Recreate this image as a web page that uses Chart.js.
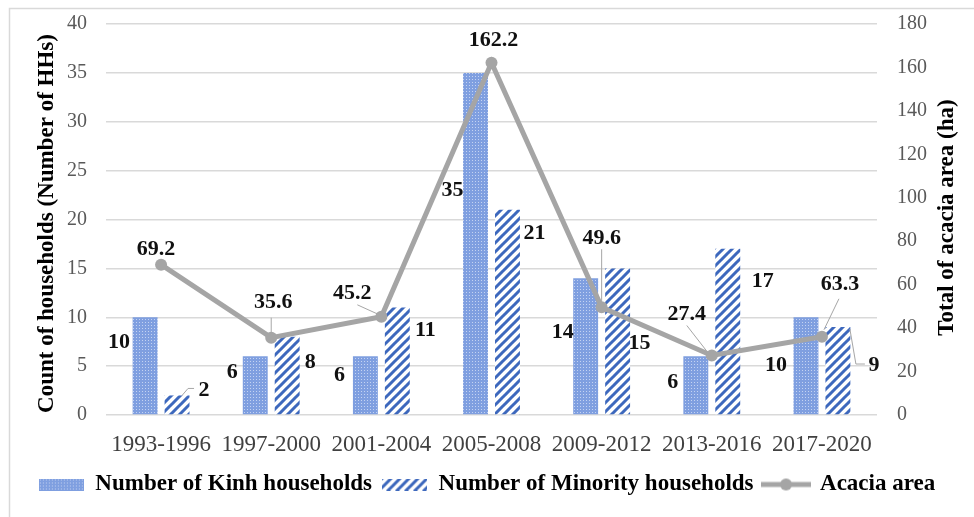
<!DOCTYPE html>
<html>
<head>
<meta charset="utf-8">
<script src="https://cdn.jsdelivr.net/npm/chart.js@4.4.0/dist/chart.umd.min.js"></script>
<style>
  html, body { margin:0; padding:0; background:#fff; }
</style>
</head>
<body>
<canvas id="chart" width="974" height="517"></canvas>
<script>
// =========== Data ============
const periods = ["1993-1996","1997-2000","2001-2004","2005-2008","2009-2012","2013-2016","2017-2020"];
const kinhHouseholds = [10, 6, 6, 35, 14, 6, 10];
const minorityHouseholds = [2, 8, 11, 21, 15, 17, 9];
// plotted position of the acacia line (last point sits at ~36 on the right axis)
const acaciaArea = [69.2, 35.6, 45.2, 162.2, 49.6, 27.4, 36];
// labels as printed on the figure
const acaciaLabels = ["69.2","35.6","45.2","162.2","49.6","27.4","63.3"];
const countMax = 40, countStep = 5;
const areaMax = 180, areaStep = 20;

// =========== Label placement (pixels from the mark) ============
const kinhLabelPos = [[-26,25],[-23,16],[-26,19],[-23,117],[-23,54],[-23,26],[-30,48]];
const minLabelPos  = [[27,-5],[23,26],[28,23],[27,24],[22,75],[35,32],[36,38]];
const areaLabelPos = [[-5,-15],[2,-35],[-29,-24],[2,-22],[0,-69],[-25,-41],[18,-52]];
const minLeaders  = {0: [[5,0],[11,-7],[17,-7]], 6: [[12,2],[18,37],[27,37]]};
const areaLeaders = {1: [[0,-3],[0,-20]], 2: [[-24,-12],[-2,-2]], 4: [[0,-58],[0,-3]],
                     5: [[-25,-30],[-4,-3]], 6: [[17,-38],[2,-7]]};

const FONT = "'Liberation Serif', 'Times New Roman', serif";
Chart.defaults.font.family = FONT;

// =========== Fill patterns ============
function dotPattern(){
  const c = document.createElement("canvas"); c.width = 3; c.height = 3;
  const x = c.getContext("2d");
  x.fillStyle = "#7f9fe0"; x.fillRect(0,0,3,3);
  x.fillStyle = "#c4d3f2"; x.fillRect(1,1,1,1);
  return c;
}
function stripePattern(){
  const s = 9;
  const c = document.createElement("canvas"); c.width = s; c.height = s;
  const x = c.getContext("2d");
  x.fillStyle = "#fff"; x.fillRect(0,0,s,s);
  x.strokeStyle = "#3d68bd"; x.lineWidth = 3;
  x.beginPath();
  x.moveTo(-1, s+1); x.lineTo(s+1, -1);
  x.moveTo(-1, 1); x.lineTo(1, -1);
  x.moveTo(s-1, s+1); x.lineTo(s+1, s-1);
  x.stroke();
  return c;
}
const ctx = document.getElementById("chart").getContext("2d");
const kinhFill = ctx.createPattern(dotPattern(), "repeat");
const minFill = ctx.createPattern(stripePattern(), "repeat");

function boxIcon(src){
  const c = document.createElement("canvas"); c.width = 45; c.height = 12;
  const x = c.getContext("2d");
  x.fillStyle = x.createPattern(src, "repeat"); x.fillRect(0,0,45,12);
  return c;
}
function lineIcon(){
  const c = document.createElement("canvas"); c.width = 50; c.height = 14;
  const x = c.getContext("2d");
  x.strokeStyle = "#a5a5a5"; x.lineWidth = 5;
  x.beginPath(); x.moveTo(0,7); x.lineTo(50,7); x.stroke();
  x.fillStyle = "#a5a5a5"; x.beginPath(); x.arc(25,7,6,0,Math.PI*2); x.fill();
  return c;
}
const legendIcons = [boxIcon(dotPattern()), boxIcon(stripePattern()), lineIcon()];

// =========== Plugins ============
const framePlugin = {
  id: "frame",
  beforeDraw(chart){
    const c = chart.ctx;
    c.save();
    c.fillStyle = "#fff"; c.fillRect(0,0,chart.width,chart.height);
    c.strokeStyle = "#d9d9d9"; c.lineWidth = 1.5;
    c.beginPath(); c.moveTo(9.5, chart.height); c.lineTo(9.5, 8.5); c.lineTo(chart.width, 8.5); c.stroke();
    c.restore();
  },
  afterDraw(chart){
    const c = chart.ctx, a = chart.chartArea;
    const midY = (a.top + a.bottom) / 2;
    c.save();
    c.font = "bold 23px " + FONT; c.fillStyle = "#000";
    c.textAlign = "center"; c.textBaseline = "middle";
    c.translate(a.left - 59, midY + 4); c.rotate(-Math.PI/2);
    c.fillText("Count of households (Number of HHs)", 0, 0);
    c.restore();
    c.save();
    c.font = "bold 23px " + FONT; c.fillStyle = "#000";
    c.textAlign = "center"; c.textBaseline = "middle";
    c.translate(a.right + 70, midY - 2); c.rotate(-Math.PI/2);
    c.fillText("Total of acacia area (ha)", 0, 0);
    c.restore();
  }
};

const labelPlugin = {
  id: "valueLabels",
  afterDatasetsDraw(chart){
    const c = chart.ctx;
    c.save();
    c.strokeStyle = "#a6a6a6"; c.lineWidth = 1;
    function leader(el, pts){
      c.beginPath();
      pts.forEach((p, i) => { i ? c.lineTo(el.x + p[0], el.y + p[1]) : c.moveTo(el.x + p[0], el.y + p[1]); });
      c.stroke();
    }
    const sets = [
      {i:0, text: kinhHouseholds.map(String), pos: kinhLabelPos, lead: {}},
      {i:1, text: minorityHouseholds.map(String), pos: minLabelPos, lead: minLeaders},
      {i:2, text: acaciaLabels, pos: areaLabelPos, lead: areaLeaders}
    ];
    sets.forEach(s => {
      chart.getDatasetMeta(s.i).data.forEach((el, k) => {
        if (s.lead[k]) leader(el, s.lead[k]);
      });
    });
    c.font = "bold 22px " + FONT; c.fillStyle = "#111";
    c.textAlign = "center"; c.textBaseline = "middle";
    sets.forEach(s => {
      chart.getDatasetMeta(s.i).data.forEach((el, k) => {
        c.fillText(s.text[k], el.x + s.pos[k][0], el.y + s.pos[k][1]);
      });
    });
    c.restore();
  }
};

// =========== Chart ============
new Chart(ctx, {
  type: "bar",
  data: {
    labels: periods,
    datasets: [
      { label: "Number of Kinh households", data: kinhHouseholds, backgroundColor: kinhFill,
        borderWidth: 0, yAxisID: "y", categoryPercentage: 0.58, barPercentage: 0.78, order: 1 },
      { label: "Number of Minority households", data: minorityHouseholds, backgroundColor: minFill,
        borderWidth: 0, yAxisID: "y", categoryPercentage: 0.58, barPercentage: 0.78, order: 1 },
      { type: "line", label: "Acacia area", data: acaciaArea, yAxisID: "y1",
        borderColor: "#a5a5a5", backgroundColor: "#a5a5a5", borderWidth: 5,
        pointRadius: 6, pointBackgroundColor: "#a5a5a5", pointBorderWidth: 0,
        tension: 0, order: 0 }
    ]
  },
  options: {
    responsive: false,
    animation: false,
    layout: { padding: { top: 24, bottom: 11, left: 0, right: 0 } },
    plugins: {
      tooltip: { enabled: false },
      legend: {
        position: "bottom",
        labels: {
          usePointStyle: true,
          pointStyleWidth: 45,
          padding: 10,
          color: "#000",
          font: { size: 23, weight: "bold", family: FONT },
          sort: (a, b) => a.datasetIndex - b.datasetIndex,
          generateLabels(chart){
            const items = Chart.defaults.plugins.legend.labels.generateLabels(chart);
            items.forEach(it => { it.pointStyle = legendIcons[it.datasetIndex]; });
            return items;
          }
        }
      }
    },
    scales: {
      x: {
        grid: { display: false },
        border: { display: false },
        ticks: { color: "#404040", font: { size: 23, family: FONT }, padding: 8, maxRotation: 0, autoSkip: false },
        afterFit(s){ s.height = 48; }
      },
      y: {
        position: "left",
        min: 0, max: countMax,
        grid: { color: "#d9d9d9", lineWidth: 1.5, drawTicks: false },
        border: { display: false },
        ticks: { stepSize: countStep, color: "#595959", font: { size: 20, family: FONT }, padding: 19 },
        afterFit(s){ s.width = 106; s.paddingTop = 8; s.paddingBottom = 8; }
      },
      y1: {
        position: "right",
        min: 0, max: areaMax,
        grid: { display: false, drawTicks: false },
        border: { display: false },
        ticks: { stepSize: areaStep, color: "#595959", font: { size: 20, family: FONT }, padding: 20 },
        afterFit(s){ s.width = 97; s.paddingTop = 8; s.paddingBottom = 8; }
      }
    }
  },
  plugins: [framePlugin, labelPlugin]
});
</script>
</body>
</html>
